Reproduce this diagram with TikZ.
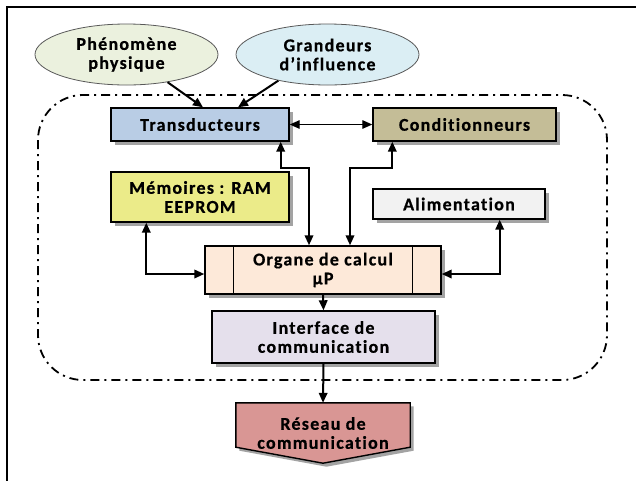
\documentclass[tikz,border=0pt]{standalone}
\usepackage{fontspec}
\setmainfont{Carlito}[LetterSpace=7,Ligatures=NoCommon,BoldFeatures={FakeBold=0.6}]
\usetikzlibrary{shapes.geometric,arrows.meta,shadows,backgrounds}
\definecolor{cEa}{HTML}{EBF1DE}
\definecolor{cEb}{HTML}{DBEEF4}
\definecolor{cTr}{HTML}{B9CDE5}
\definecolor{cCo}{HTML}{C4BD97}
\definecolor{cMe}{HTML}{EBEB89}
\definecolor{cAl}{HTML}{F2F2F2}
\definecolor{cOr}{HTML}{FDE9D9}
\definecolor{cIn}{HTML}{E5E0EC}
\definecolor{cRe}{HTML}{D99694}
\tikzset{
  lbl/.style={font=\fontsize{18}{19}\selectfont\bfseries, align=center, inner sep=0pt},
  ell/.style={lbl, ellipse, draw=black!65, line width=0.8pt, minimum width=183pt, minimum height=61pt},
  shad/.style={drop shadow={shadow xshift=3.5pt,shadow yshift=-3.5pt,fill=black!60,opacity=0.6}},
  box/.style={lbl, rectangle, draw=black, line width=1.4pt, shad},
  tip/.style={Triangle[length=10pt,width=8.5pt]},
  conn/.style={line width=2pt, -{Triangle[length=10pt,width=8.5pt]}},
  conn2/.style={line width=2pt, {Triangle[length=10pt,width=8.5pt]}-{Triangle[length=10pt,width=8.5pt]}},
  zone/.style={line width=1.8pt, dash pattern=on 9pt off 5pt on 2pt off 5pt, rounded corners=45pt},
}
\begin{document}
\begin{tikzpicture}[x=1pt,y=-1pt]
\useasboundingbox (0,0) rectangle (636,480);
\draw[line width=2pt] (7,481) -- (7,7) -- (637,7);
\draw[zone] (38,95) rectangle (607,380);

\node[ell, fill=cEa] (e1) at (126.5,54.5) {Phénomène\\physique};
\node[ell, fill=cEb] (e2) at (327.5,54.5) {Grandeurs\\d’influence};
\node[box, fill=cTr, minimum width=178pt, minimum height=33pt] (tr) at (200,124.5) {Transducteurs};
\node[box, fill=cCo, minimum width=183pt, minimum height=33pt] (co) at (464.5,124.5) {Conditionneurs};
\node[box, fill=cMe, minimum width=178pt, minimum height=50pt] (me) at (200,197) {Mémoires : RAM\\EEPROM};
\node[box, fill=cAl, minimum width=172pt, minimum height=30pt] (al) at (459,204) {Alimentation};
\node[box, fill=cOr, minimum width=236pt, minimum height=48pt] (or) at (323,270) {Organe de calcul\\µP};
\draw[line width=1pt] ([xshift=29pt]or.north west) -- ([xshift=29pt]or.south west);
\draw[line width=1pt] ([xshift=-29pt]or.north east) -- ([xshift=-29pt]or.south east);
\node[box, fill=cIn, minimum width=223pt, minimum height=52pt] (in) at (323.5,337) {Interface de\\communication};
\node[lbl, minimum width=174pt, minimum height=60pt] (re) at (323,433) {Réseau de\\communication};
\begin{scope}[on background layer]
\fill[white] (0,0) rectangle (636,480);
\draw[line width=1.4pt, fill=cRe, shad] (re.north west) -- (re.north east) -- ([yshift=16pt]re.south east) -- (re.south) -- ([yshift=16pt]re.south west) -- cycle;
\end{scope}

\draw[conn] (e1.-34) -- ([xshift=3pt]tr.north);
\draw[conn] (e2.-152) -- ([xshift=38pt]tr.north);
\draw[conn2, line width=1.3pt] (tr.east) -- (co.west);
\draw[conn2] ([xshift=-9pt]tr.south east) -- ++(0,26) -| ([xshift=-14pt]or.north);
\draw[conn2] ([xshift=20pt]co.south west) -- ++(0,26) -| ([xshift=27pt]or.north);
\draw[conn2] ([xshift=36pt]me.south west) |- ([yshift=-4pt]or.west);
\draw[conn2] ([xshift=-46pt]al.south east) |- ([yshift=-4pt]or.east);
\draw[conn] (or.south) -- (in.north);
\draw[conn] (in.south) -- (re.north);
\end{tikzpicture}
\end{document}
